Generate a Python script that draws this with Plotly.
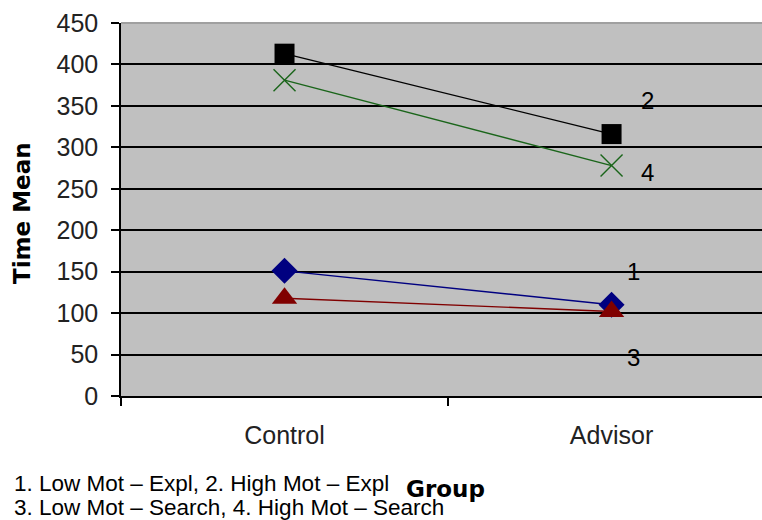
import plotly.graph_objects as go

groups = ["Control", "Advisor"]
low_expl = [151, 110]      # 1
high_expl = [413, 316]     # 2
low_search = [118, 102]    # 3
high_search = [381, 278]   # 4
y_ticks = [0, 50, 100, 150, 200, 250, 300, 350, 400, 450]
series_labels = ["1", "2", "3", "4"]
label_y = [150, 356, 47, 270]
note_lines = ["1. Low Mot \u2013 Expl, 2. High Mot \u2013 Expl",
              "3. Low Mot \u2013 Search, 4. High Mot \u2013 Search"]

W, H = 762, 520
L, T, B = 121, 23, 124
PW, PH = W - L, H - T - B

def px(x):
    return (x - L) / PW

def py(y):
    return (H - B - y) / PH

fig = go.Figure()
specs = [
    (low_expl, "#000080", "diamond", 20, 0),
    (high_expl, "#000000", "square", 20, 0),
    (low_search, "#800000", "triangle-up", 22, 0),
    (high_search, "#1a651a", "x-thin", 22, 1.4),
]
for vals, col, sym, size, lw in specs:
    fig.add_trace(go.Scatter(
        x=groups, y=vals, mode="lines+markers",
        line=dict(color=col, width=1.4),
        marker=dict(symbol=sym, size=size, color=col,
                    line=dict(color=col, width=lw)),
        showlegend=False, cliponaxis=False,
    ))

font_tick = dict(family="Liberation Sans, Arial", size=25, color="#222222")

fig.update_layout(
    width=W, height=H,
    margin=dict(l=L, r=0, t=T, b=B),
    paper_bgcolor="white", plot_bgcolor="#c0c0c0",
    xaxis=dict(type="category", range=[-0.5, 1.46], showgrid=False,
               showline=True, linecolor="black", linewidth=1.5,
               ticks="outside", tickson="boundaries", ticklen=8,
               tickcolor="black", tickwidth=1.5, tickfont=font_tick,
               ticklabelstandoff=16, zeroline=False),
    yaxis=dict(range=[0, 450], tickvals=y_ticks, showgrid=True,
               gridcolor="black", gridwidth=1.5,
               showline=True, linecolor="black", linewidth=1.5,
               ticks="outside", ticklen=8, tickcolor="black", tickwidth=1.5,
               tickfont=font_tick, ticklabelstandoff=8, zeroline=False),
    shapes=[dict(type="line", xref="paper", yref="paper", x0=0, x1=1,
                 y0=1, y1=1, line=dict(color="#a0a0a0", width=2),
                 layer="above")],
)

ann = []
label_x = [1.066, 1.11, 1.066, 1.11]
for t, xv, yv in zip(series_labels, label_y and label_x, label_y):
    ann.append(dict(x=xv, y=yv, xref="x", yref="y", text=t, showarrow=False,
                    xanchor="center", yanchor="middle",
                    font=dict(family="Liberation Sans, Arial", size=24,
                              color="black")))
ann.append(dict(x=px(22), y=py(213), xref="paper", yref="paper",
                xanchor="center", yanchor="middle",
                text="<b>Time Mean</b>", textangle=-90, showarrow=False,
                font=dict(family="DejaVu Sans", size=23, color="black")))
ann.append(dict(x=px(446), y=py(489), xref="paper", yref="paper",
                xanchor="center", yanchor="middle",
                text="<b>Group</b>", showarrow=False,
                font=dict(family="DejaVu Sans", size=23, color="black")))
ann.append(dict(x=px(12), y=py(483), xref="paper", yref="paper",
                xanchor="left", yanchor="middle", text=note_lines[0],
                showarrow=False,
                font=dict(family="Liberation Sans, Arial", size=22.5,
                          color="black")))
ann.append(dict(x=px(12), y=py(507), xref="paper", yref="paper",
                xanchor="left", yanchor="middle", text=note_lines[1],
                showarrow=False,
                font=dict(family="Liberation Sans, Arial", size=22.5,
                          color="black")))
fig.update_layout(annotations=ann)

fig.write_html("out.html")
